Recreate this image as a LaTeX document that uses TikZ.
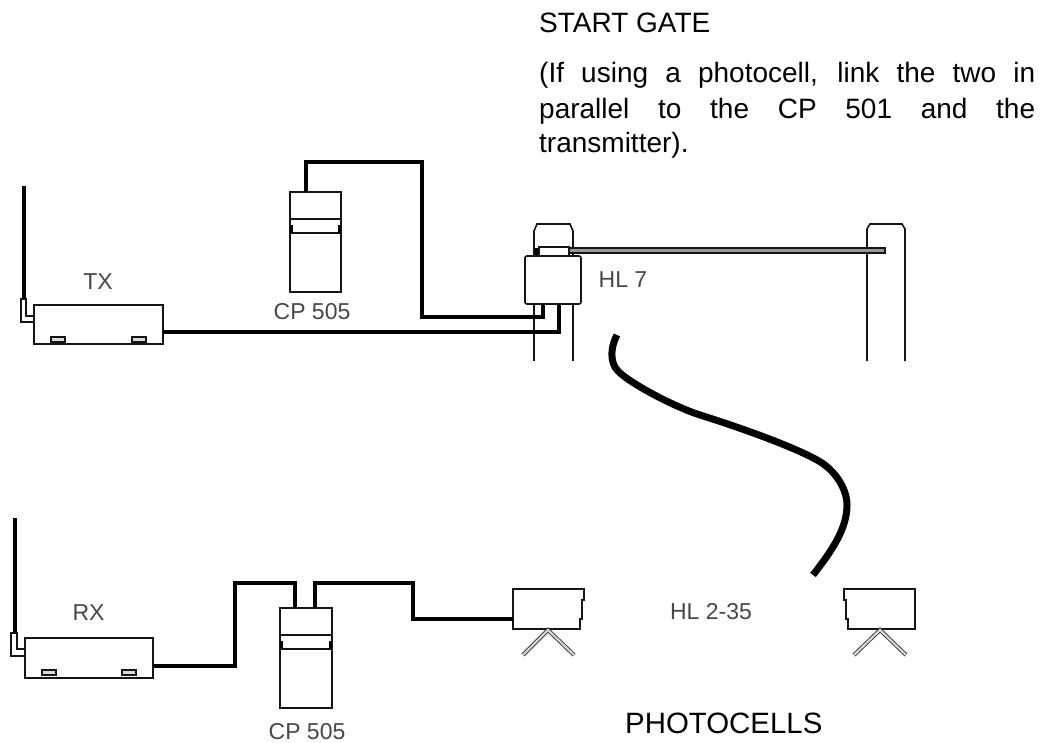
\documentclass[tikz,border=0pt]{standalone}
\usepackage{fontspec}
\setmainfont{Liberation Sans}
\definecolor{ink}{gray}{0.08}
\tikzset{
  x=1pt,y=-1pt,
  thinline/.style={draw=ink,line width=1.6pt},
  boxnode/.style={thinline,inner sep=0pt,outer sep=0pt,anchor=north west},
  footbox/.style={draw=ink,line width=1.3pt,fill=black!15},
  wire/.style={draw=black,line width=3.8pt,line join=miter},
  cable/.style={draw=black,line width=7pt,line cap=butt,line join=round},
  lab/.style={font=\fontsize{23}{25}\selectfont,text=black!72,inner sep=0pt,anchor=center},
  body/.style={font=\fontsize{28}{30}\selectfont,text=black,inner sep=0pt,anchor=base west},
  legline/.style={draw=ink!80,line width=1pt,double=black!15,double distance=2pt}
}
\begin{document}
\begin{tikzpicture}
\useasboundingbox (0,0) rectangle (1059,743);
% texts
\node[body] (t1) at (539,33) {START GATE};
\node[body] (t2) at (539,83) {\makebox[496pt][s]{(If using a photocell, link the two in}};
\node[body] (t3) at (539,119) {\makebox[496pt][s]{parallel to the CP 501 and the}};
\node[body] (t4) at (539,153) {transmitter).};
% TX
\coordinate (txant) at (24,186);
\draw[line width=3.8pt,draw=black] (txant) -- (24,299);
\node[boxnode,minimum width=129pt,minimum height=39pt] (tx) at (34,305) {};
\draw[thinline] (tx.west |- 0,316) -- (26,316) -- (26,299) -- (21,299) -- (21,322) -- (tx.west |- 0,322);
\draw[footbox] (51,337) rectangle (65,342);
\draw[footbox] (132,337) rectangle (146,342);
\node[lab] (txl) at (98,282) {TX};
% CP505 top
\node[boxnode,minimum width=51pt,minimum height=100pt] (cp1) at (290,192) {};
\draw[thinline] (290,219) -- (341,219) (290,233) -- (341,233);
\draw[line width=2.4pt] (291.5,225) -- (291.5,233) (339.5,225) -- (339.5,233);
\node[lab] (cp1l) at (312,312) {CP 505};
% HL7 posts
\draw[thinline] (534,256) -- (534,231) -- (537,224) -- (570,224) -- (573,231) -- (573,256);
\draw[thinline] (534,304) -- (534,361) (573,304) -- (573,361);
\draw[thinline] (867,361) -- (867,229) -- (870,224) -- (902,224) -- (905,229) -- (905,361);
\draw[thinline,fill=white] (539,247) rectangle (569,256);
\draw[line width=3pt] (536,248) -- (536,256);
\draw[draw=ink,line width=1.6pt,fill=black!40] (569,248) rectangle (885,253);
\node[boxnode,rounded corners=2pt,minimum width=56pt,minimum height=48pt,fill=white] (hl7) at (525,256) {};
\node[lab] (hl7l) at (623,280) {HL 7};
% wires top
\draw[wire] ([xshift=16pt]cp1.north west) -- (306,162) -- (422,162) -- (422,317) -- (543,317) -- ([xshift=18pt]hl7.south west);
\draw[wire] ([yshift=-7.5pt]tx.east) -- (559,332) -- ([xshift=34pt]hl7.south west);
% cable
\draw[cable] (617,335) .. controls (611,346) and (609,362) .. (618,371)
  .. controls (628,382) and (672,406) .. (700,415)
  .. controls (735,426) and (790,445) .. (817,460)
  .. controls (834,469) and (847,488) .. (847,505)
  .. controls (847,530) and (830,553) .. (813,575);
% RX
\draw[line width=3.8pt,draw=black] (15,518) -- (15,633);
\node[boxnode,minimum width=128pt,minimum height=40pt] (rx) at (25,638) {};
\draw[thinline] (rx.west |- 0,649) -- (17,649) -- (17,633) -- (11,633) -- (11,656) -- (rx.west |- 0,656);
\draw[footbox] (42,670) rectangle (56,675);
\draw[footbox] (122,670) rectangle (136,675);
\node[lab] (rxl) at (88.5,613) {RX};
% CP505 bottom
\node[boxnode,minimum width=52pt,minimum height=100pt] (cp2) at (280,608) {};
\draw[thinline] (280,635) -- (332,635) (280,649) -- (332,649);
\draw[line width=2.4pt] (281.5,641) -- (281.5,649) (330.5,641) -- (330.5,649);
\node[lab] (cp2l) at (307,732) {CP 505};
% photocells
\coordinate (pcw) at (513,619);
\draw[thinline] (513,589) -- (584,589) -- (584,600) -- (582,600) -- (582,619) -- (580,619) -- (580,629) -- (513,629) -- cycle;
\draw[thinline] (915,589) -- (844,589) -- (844,600) -- (846,600) -- (846,619) -- (848,619) -- (848,629) -- (915,629) -- cycle;
\coordinate (pc1) at (548,630); \coordinate (pc2) at (880,630);
\draw[legline] (523,655) -- (pc1) -- (574,655);
\draw[legline] (854,655) -- (pc2) -- (906,655);
\node[lab] (hll) at (711,612) {HL 2-35};
\node[body,font=\fontsize{29.4}{31}\selectfont] (ph) at (625,733) {PHOTOCELLS};
% wires bottom
\draw[wire] ([yshift=-8pt]rx.east) -- (235,666) -- (235,583) -- (295,583) -- ([xshift=15pt]cp2.north west);
\draw[wire] ([xshift=35pt]cp2.north west) -- (315,583) -- (413,583) -- (413,619) -- (pcw);
\end{tikzpicture}
\end{document}
